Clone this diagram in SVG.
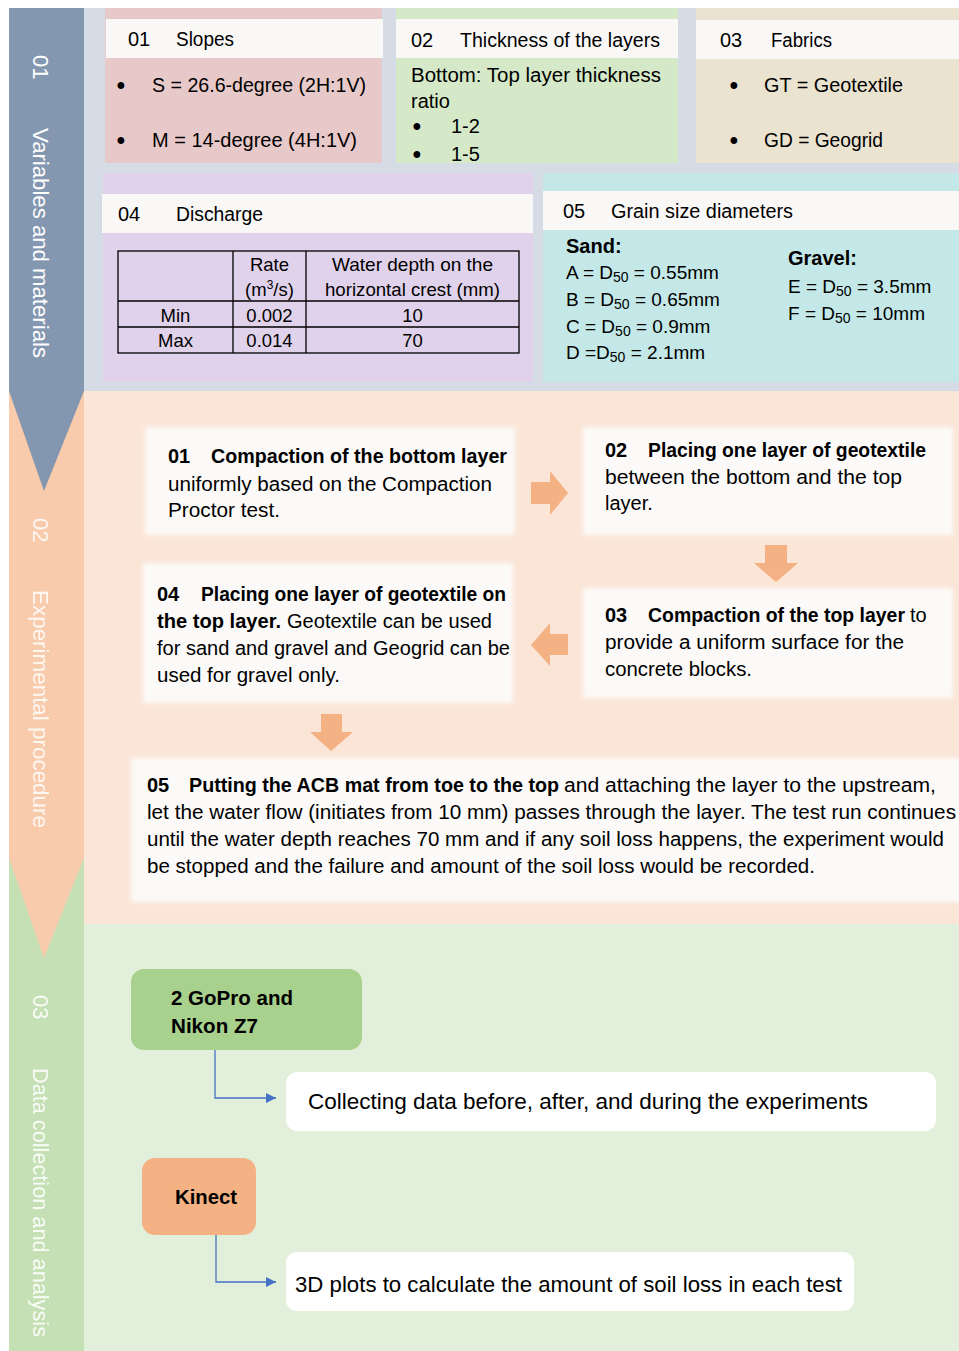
<svg xmlns="http://www.w3.org/2000/svg" width="959" height="1351" viewBox="0 0 959 1351">
<defs>
<style>
text{font-family:"Liberation Sans",Arial,sans-serif;font-size:20px;fill:#000}
.b{font-weight:bold}
.bul{font-size:25px}
.side{font-size:22px;fill:#fff;dominant-baseline:central}
.tb{font-size:18.5px;text-anchor:middle}
.gs{font-size:19px}
.s3{font-size:22px}
.s3b{font-size:21px;font-weight:bold}
.hdr{fill:#faf8f7}
.proc{fill:#fcfaf9}
.arr{fill:#f4b183}
.conn{fill:none;stroke:#4472c4;stroke-width:1.3}
.grid{stroke:#000;stroke-width:1.3;fill:none}
</style>
<filter id="soft" x="-5%" y="-10%" width="110%" height="120%"><feGaussianBlur stdDeviation="2.5"/></filter>
<marker id="ah" viewBox="0 0 10 10" refX="10" refY="5" markerWidth="10" markerHeight="10" markerUnits="userSpaceOnUse" orient="auto"><path d="M0,0 L10,5 L0,10 z" fill="#4472c4"/></marker>
</defs>
<rect width="959" height="1351" fill="#fff"/>
<!-- section panels -->
<rect x="84" y="8" width="875" height="383" fill="#d6dce5"/>
<rect x="84" y="391" width="875" height="533" fill="#fbe5d6"/>
<rect x="84" y="924" width="875" height="427" fill="#e2efda"/>
<!-- side bar -->
<g id="sidebar">
<rect x="9" y="858" width="75" height="493" fill="#c5e0b4"/>
<rect x="9" y="391" width="75" height="467" fill="#f8cbad"/>
<polygon points="9,858 84,858 44,958" fill="#f8cbad"/>
<rect x="9" y="8" width="75" height="383" fill="#8497b0"/>
<polygon points="9,391 84,391 44,491" fill="#8497b0"/>
<text class="side" transform="translate(40,55) rotate(90)">01</text>
<text class="side" transform="translate(40,128) rotate(90)" textLength="230" lengthAdjust="spacingAndGlyphs">Variables and materials</text>
<text class="side" transform="translate(40,518) rotate(90)" opacity="0.85">02</text>
<text class="side" transform="translate(40,590) rotate(90)" textLength="238" lengthAdjust="spacingAndGlyphs" opacity="0.85">Experimental procedure</text>
<text class="side" transform="translate(40,995) rotate(90)" opacity="0.9">03</text>
<text class="side" transform="translate(40,1068) rotate(90)" textLength="269" lengthAdjust="spacingAndGlyphs" opacity="0.9">Data collection and analysis</text>
</g>
<!-- section 1 -->
<g id="slopes">
<rect x="105" y="8" width="277" height="155" fill="#e8c9c9"/>
<rect class="hdr" x="106" y="19" width="277" height="39"/>
<text x="128" y="46">01</text>
<text x="176" y="46" textLength="58" lengthAdjust="spacingAndGlyphs">Slopes</text>
<text class="bul" x="116.6" y="93.5">•</text>
<text x="152" y="92" textLength="214" lengthAdjust="spacingAndGlyphs">S = 26.6-degree (2H:1V)</text>
<text class="bul" x="116.6" y="148.5">•</text>
<text x="152" y="147" textLength="205" lengthAdjust="spacingAndGlyphs">M = 14-degree (4H:1V)</text>
</g>
<g id="thickness">
<rect x="396" y="8" width="282" height="155" fill="#d5e9c8"/>
<rect class="hdr" x="396" y="19" width="282" height="39"/>
<text x="411" y="47">02</text>
<text x="460" y="47" textLength="200" lengthAdjust="spacingAndGlyphs">Thickness of the layers</text>
<text x="411" y="82" textLength="250" lengthAdjust="spacingAndGlyphs">Bottom: Top layer thickness</text>
<text x="411" y="108">ratio</text>
<text class="bul" x="412.6" y="134.5">•</text>
<text x="451" y="133">1-2</text>
<text class="bul" x="412.6" y="162.5">•</text>
<text x="451" y="161">1-5</text>
</g>
<g id="fabrics">
<rect x="696" y="8" width="263" height="155" fill="#e9e3d0"/>
<rect class="hdr" x="696" y="20" width="263" height="39"/>
<text x="720" y="47">03</text>
<text x="771" y="47" textLength="61" lengthAdjust="spacingAndGlyphs">Fabrics</text>
<text class="bul" x="729.6" y="93.5">•</text>
<text x="764" y="92" textLength="139" lengthAdjust="spacingAndGlyphs">GT = Geotextile</text>
<text class="bul" x="729.6" y="148.5">•</text>
<text x="764" y="147" textLength="119" lengthAdjust="spacingAndGlyphs">GD = Geogrid</text>
</g>
<g id="discharge">
<rect x="103" y="173" width="430" height="209" fill="#e0d2ea"/>
<rect class="hdr" x="102" y="194" width="431" height="39"/>
<text x="118" y="221">04</text>
<text x="176" y="221" textLength="87" lengthAdjust="spacingAndGlyphs">Discharge</text>
<rect class="grid" x="118" y="251" width="401" height="102"/>
<path class="grid" d="M233,251 V353 M306,251 V353 M118,301 H519 M118,327 H519"/>
<text class="tb" x="269.5" y="271">Rate</text>
<text class="tb" x="269.5" y="296">(m<tspan font-size="12" dy="-7">3</tspan><tspan dy="7">/s)</tspan></text>
<text class="tb" x="412.5" y="271" textLength="161" lengthAdjust="spacingAndGlyphs">Water depth on the</text>
<text class="tb" x="412.5" y="296" textLength="175" lengthAdjust="spacingAndGlyphs">horizontal crest (mm)</text>
<text class="tb" x="175.5" y="322">Min</text>
<text class="tb" x="269.5" y="322">0.002</text>
<text class="tb" x="412.5" y="322">10</text>
<text class="tb" x="175.5" y="347">Max</text>
<text class="tb" x="269.5" y="347">0.014</text>
<text class="tb" x="412.5" y="347">70</text>
</g>
<g id="grain">
<rect x="543" y="173" width="416" height="209" fill="#c4e8e7"/>
<rect class="hdr" x="543" y="191" width="416" height="39"/>
<text x="563" y="218">05</text>
<text x="611" y="218" textLength="182" lengthAdjust="spacingAndGlyphs">Grain size diameters</text>
<text class="b" x="566" y="253">Sand:</text>
<text class="gs" x="566" y="279">A = D<tspan font-size="14" dy="3">50</tspan><tspan dy="-3"> = 0.55mm</tspan></text>
<text class="gs" x="566" y="306">B = D<tspan font-size="14" dy="3">50</tspan><tspan dy="-3"> = 0.65mm</tspan></text>
<text class="gs" x="566" y="333">C = D<tspan font-size="14" dy="3">50</tspan><tspan dy="-3"> = 0.9mm</tspan></text>
<text class="gs" x="566" y="359">D =D<tspan font-size="14" dy="3">50</tspan><tspan dy="-3"> = 2.1mm</tspan></text>
<text class="b" x="788" y="265">Gravel:</text>
<text class="gs" x="788" y="293">E = D<tspan font-size="14" dy="3">50</tspan><tspan dy="-3"> = 3.5mm</tspan></text>
<text class="gs" x="788" y="320">F = D<tspan font-size="14" dy="3">50</tspan><tspan dy="-3"> = 10mm</tspan></text>
</g>
<!-- section 2 -->
<g id="step01">
<rect class="proc" x="145" y="427" width="370" height="108" filter="url(#soft)"/>
<text class="b" x="168" y="463">01</text>
<text class="b" x="211" y="463" textLength="296" lengthAdjust="spacingAndGlyphs">Compaction of the bottom layer</text>
<text x="168" y="491" textLength="324" lengthAdjust="spacingAndGlyphs">uniformly based on the Compaction</text>
<text x="168" y="517" textLength="112" lengthAdjust="spacingAndGlyphs">Proctor test.</text>
</g>
<g id="step02">
<rect class="proc" x="583" y="427" width="370" height="108" filter="url(#soft)"/>
<text class="b" x="605" y="457">02</text>
<text class="b" x="648" y="457" textLength="278" lengthAdjust="spacingAndGlyphs">Placing one layer of geotextile</text>
<text x="605" y="484" textLength="297" lengthAdjust="spacingAndGlyphs">between the bottom and the top</text>
<text x="605" y="510">layer.</text>
</g>
<g id="step03">
<rect class="proc" x="583" y="588" width="370" height="110" filter="url(#soft)"/>
<text class="b" x="605" y="622">03</text>
<text class="b" x="648" y="622" textLength="257" lengthAdjust="spacingAndGlyphs">Compaction of the top layer</text>
<text x="910" y="622">to</text>
<text x="605" y="649" textLength="299" lengthAdjust="spacingAndGlyphs">provide a uniform surface for the</text>
<text x="605" y="676" textLength="147" lengthAdjust="spacingAndGlyphs">concrete blocks.</text>
</g>
<g id="step04">
<rect class="proc" x="143" y="563" width="370" height="140" filter="url(#soft)"/>
<text class="b" x="157" y="601">04</text>
<text class="b" x="201" y="601" textLength="305" lengthAdjust="spacingAndGlyphs">Placing one layer of geotextile on</text>
<text class="b" x="157" y="628" textLength="124" lengthAdjust="spacingAndGlyphs">the top layer.</text>
<text x="287" y="628" textLength="205" lengthAdjust="spacingAndGlyphs">Geotextile can be used</text>
<text x="157" y="655" textLength="353" lengthAdjust="spacingAndGlyphs">for sand and gravel and Geogrid can be</text>
<text x="157" y="682" textLength="183" lengthAdjust="spacingAndGlyphs">used for gravel only.</text>
</g>
<g id="step05">
<rect class="proc" x="131" y="758" width="835" height="144" filter="url(#soft)"/>
<text class="b" x="147" y="792">05</text>
<text class="b" x="189" y="792" textLength="370" lengthAdjust="spacingAndGlyphs">Putting the ACB mat from toe to the top</text>
<text x="564" y="792" textLength="372" lengthAdjust="spacingAndGlyphs">and attaching the layer to the upstream,</text>
<text x="147" y="819" textLength="809" lengthAdjust="spacingAndGlyphs">let the water flow (initiates from 10 mm) passes through the layer. The test run continues</text>
<text x="147" y="846" textLength="797" lengthAdjust="spacingAndGlyphs">until the water depth reaches 70 mm and if any soil loss happens, the experiment would</text>
<text x="147" y="873" textLength="668" lengthAdjust="spacingAndGlyphs">be stopped and the failure and amount of the soil loss would be recorded.</text>
</g>
<g id="arrows">
<polygon class="arr" points="531,482 550,482 550,471 568,493 550,515 550,504 531,504"/>
<polygon class="arr" points="765,545 787,545 787,563 798,563 776,582 754,563 765,563"/>
<polygon class="arr" points="568,634 550,634 550,623 531,645 550,666 550,655 568,655"/>
<polygon class="arr" points="321,714 342,714 342,732 353,732 331,751 310,732 321,732"/>
</g>
<!-- section 3 -->
<g id="gopro">
<rect x="131" y="969" width="231" height="81" rx="13" fill="#a9d18e"/>
<text class="s3b" x="171" y="1005" textLength="122" lengthAdjust="spacingAndGlyphs">2 GoPro and</text>
<text class="s3b" x="171" y="1033" textLength="87" lengthAdjust="spacingAndGlyphs">Nikon Z7</text>
</g>
<g id="collect">
<rect x="286" y="1072" width="650" height="59" rx="11" fill="#fff"/>
<text class="s3" x="308" y="1109" textLength="560" lengthAdjust="spacingAndGlyphs">Collecting data before, after, and during the experiments</text>
</g>
<g id="kinect">
<rect x="142" y="1158" width="114" height="77" rx="13" fill="#f4b183"/>
<text class="s3b" x="175" y="1204" textLength="62" lengthAdjust="spacingAndGlyphs">Kinect</text>
</g>
<g id="plots">
<rect x="286" y="1252" width="568" height="59" rx="11" fill="#fff"/>
<text class="s3" x="295" y="1292" textLength="547" lengthAdjust="spacingAndGlyphs">3D plots to calculate the amount of soil loss in each test</text>
</g>
<g id="connectors">
<path class="conn" d="M215,1050 V1098 H276" marker-end="url(#ah)"/>
<path class="conn" d="M216,1235 V1282 H276" marker-end="url(#ah)"/>
</g>
</svg>
